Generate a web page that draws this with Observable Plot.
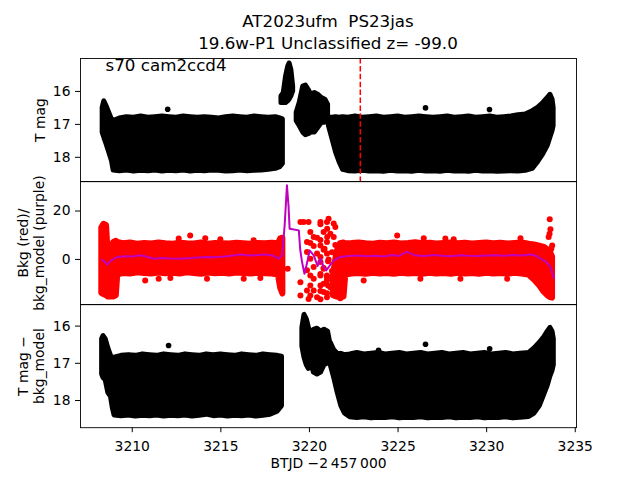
<!DOCTYPE html>
<html><head><meta charset="utf-8">
<script src="https://cdn.jsdelivr.net/npm/d3@7"></script>
<script src="https://cdn.jsdelivr.net/npm/@observablehq/plot@0.6"></script>
<style>
body{margin:0;background:#fff;}
#fig{position:relative;width:640px;height:480px;font-family:"DejaVu Sans",sans-serif;color:#000;overflow:hidden;}
.title{position:absolute;left:0;top:9.6px;width:656px;text-align:center;font-size:16.7px;line-height:22.6px;white-space:pre;}
</style></head><body><div id="fig"><div class="title" id="title"></div></div>
<script>
// ---------- data ----------
const titleLines = ["AT2023ufm  PS23jas", "19.6w-P1 Unclassified z= -99.0"];
const xTicks = [3210, 3215, 3220, 3225, 3230, 3235];
const xLabel = "BTJD \u22122\u2009457\u2009000";
const sectorLabel = "s70 cam2ccd4";
const markTime = [3222.87];

// Panel 1 : T mag envelope (segments)
const p1A_t = [3208.33,3208.42,3208.55,3208.70,3208.85,3208.95,3209.3,3209.7,3210.1,3210.5,3210.9,3211.3,3211.7,3212.1,3212.5,3212.9,3213.3,3213.7,3214.1,3214.5,3214.9,3215.3,3215.7,3216.1,3216.5,3216.9,3217.3,3217.7,3218.1,3218.35,3218.5];
const p1A_top = [16.50,16.30,16.45,16.65,16.85,16.90,16.82,16.78,16.80,16.76,16.80,16.78,16.76,16.78,16.80,16.76,16.78,16.80,16.78,16.80,16.82,16.78,16.76,16.78,16.80,16.76,16.78,16.80,16.78,16.82,16.85];
const p1A_bot = [17.25,17.40,17.60,17.85,18.10,18.40,18.42,18.40,18.43,18.41,18.42,18.40,18.43,18.41,18.42,18.40,18.43,18.41,18.42,18.40,18.41,18.43,18.42,18.40,18.42,18.41,18.40,18.38,18.35,18.30,18.20];
const p1B_t = [3218.42,3218.55,3218.68,3218.80,3218.88,3218.98,3219.08];
const p1B_top = [16.15,16.05,15.55,15.25,15.15,15.35,15.85];
const p1B_bot = [16.35,16.35,16.35,16.30,16.25,16.15,16.00];
const p1C_t = [3219.28,3219.45,3219.65,3219.80,3219.95,3220.10,3220.30,3220.50,3220.70,3220.90,3221.05];
const p1C_top = [16.65,16.35,15.85,15.82,15.95,16.10,16.05,16.10,16.20,16.25,16.40];
const p1C_bot = [16.90,17.05,17.25,17.33,17.30,17.25,17.25,17.10,16.95,16.95,16.90];
const p1D_t = [3221.10,3221.30,3221.50,3221.70,3221.90,3222.2,3222.6,3223.0,3223.4,3223.8,3224.2,3224.6,3225.0,3225.4,3225.8,3226.2,3226.6,3227.0,3227.4,3227.8,3228.2,3228.6,3229.0,3229.4,3229.8,3230.2,3230.6,3231.0,3231.4,3231.8,3232.2,3232.6,3232.9,3233.2,3233.45,3233.6,3233.72,3233.78];
const p1D_top = [16.80,16.80,16.78,16.80,16.78,16.80,16.76,16.80,16.78,16.76,16.80,16.78,16.76,16.80,16.78,16.76,16.78,16.80,16.78,16.76,16.80,16.78,16.76,16.80,16.78,16.76,16.80,16.78,16.76,16.72,16.70,16.60,16.50,16.35,16.20,16.10,16.25,16.50];
const p1D_bot = [17.05,17.45,17.85,18.15,18.38,18.42,18.43,18.41,18.43,18.42,18.44,18.41,18.43,18.42,18.44,18.41,18.43,18.42,18.44,18.41,18.43,18.42,18.44,18.41,18.43,18.42,18.44,18.43,18.42,18.43,18.41,18.35,18.15,17.90,17.65,17.40,17.20,17.05];
const p1Out_t = [3212.0, 3226.55, 3230.16];
const p1Out_m = [16.54, 16.50, 16.55];

// Panel 2 : background flux (red) envelope + scattered points, model (purple)
const p2A_t = [3208.28,3208.40,3208.55,3208.65,3208.80,3208.95,3209.10,3209.18,3209.5,3209.9,3210.3,3210.7,3211.1,3211.5,3211.9,3212.3,3212.7,3213.1,3213.5,3213.9,3214.3,3214.7,3215.1,3215.5,3215.9,3216.3,3216.7,3217.1,3217.5,3217.9,3218.25,3218.38,3218.5];
const p2A_top = [13.0,14.5,14.0,1.0,-0.5,7.0,7.5,7.0,6.5,6.8,6.3,6.6,6.4,6.8,6.5,6.3,6.7,6.5,6.4,6.8,6.3,6.6,6.5,6.4,6.7,6.5,6.3,6.6,6.5,6.7,6.5,8.5,8.8];
const p2A_bot = [-14.0,-14.5,-15.0,-15.5,-15.5,-15.5,-15.0,-6.5,-5.8,-6.0,-5.5,-5.8,-6.0,-5.6,-5.9,-5.7,-6.0,-5.5,-5.8,-6.1,-5.6,-5.9,-5.7,-6.0,-5.6,-5.8,-6.0,-5.7,-5.9,-6.0,-6.5,-12.0,-14.3];
const p2B_t = [3221.35,3221.55,3221.75,3221.95,3222.05,3222.4,3222.8,3223.2,3223.6,3224.0,3224.4,3224.8,3225.2,3225.6,3226.0,3226.4,3226.8,3227.2,3227.6,3228.0,3228.4,3228.8,3229.2,3229.6,3230.0,3230.4,3230.8,3231.2,3231.6,3232.0,3232.4,3232.7,3233.0,3233.25,3233.45,3233.6,3233.72];
const p2B_top = [-7.0,3.0,6.5,6.8,6.5,6.6,6.8,6.5,6.3,6.7,6.5,6.8,6.4,6.6,6.9,6.5,6.7,6.4,6.6,6.8,6.5,6.7,6.4,6.6,6.8,6.5,6.7,6.4,6.6,6.8,6.3,6.0,5.5,5.0,4.0,3.0,1.0];
const p2B_bot = [-15.0,-15.5,-15.8,-15.5,-6.5,-6.0,-5.8,-6.1,-5.7,-6.0,-5.8,-6.1,-5.7,-6.0,-5.8,-6.1,-5.7,-6.0,-5.8,-6.1,-5.7,-6.0,-5.8,-6.1,-5.7,-6.0,-5.8,-6.1,-5.7,-6.0,-6.5,-8.5,-11.0,-13.5,-15.0,-15.8,-16.0];
const p2Pts_t = [3210.73,3211.49,3212.15,3212.62,3213.27,3214.12,3214.22,3214.97,3216.29,3216.85,3217.23,3223.06,3224.95,3226.26,3226.45,3227.67,3228.14,3228.52,3231.16,3231.91,3218.77,
  3233.56,3233.60,3233.55,3233.50,3233.70,3233.65,
  3219.49,3219.67,3219.95,3220.62,3220.99,3220.05,3220.24,3220.43,3221.00,3221.00,3219.86,3220.05,3220.62,3220.24,3220.85,3219.86,3220.43,3220.99,3220.05,3220.62,3221.05,3220.24,3220.80,3219.86,3220.05,3220.62,3220.99,3220.24,3220.99,3219.49,3220.05,3220.62,3221.05,3219.86,3220.24,3220.80,3219.49,3220.05,3220.43,3220.99,3219.95,3220.62,
  3220.62,3221.08,3221.37,3221.46,3220.80,3221.18,3221.37,3220.62,3220.99,3221.46,3220.80,3221.27,3220.62,3221.08,3221.46,3220.80,3221.27,3220.62,3220.99,3221.46,3220.80,3221.18,3221.56,3220.62,3220.99,3221.46,3221.74,3221.84,3221.65];
const p2Pts_v = [-8.7,-8.0,-7.7,8.6,9.9,8.8,-8.0,8.3,-8.0,7.9,-7.7,-8.7,9.9,-8.0,8.8,8.6,8.3,-8.0,-8.0,8.8,-3.8,
  16.6,12.5,10.6,9.3,5.8,4.4,
  15.5,15.5,15.5,15.5,15.5,11.3,9.3,9.0,12.7,9.3,7.2,6.8,5.8,5.5,4.4,3.1,2.4,2.4,0.3,-1.1,-0.8,-3.1,-3.8,-4.5,-6.6,-6.6,-6.6,-8.0,-8.7,-9.4,-10.8,-10.8,-10.8,-12.8,-12.8,-13.5,-14.9,-14.9,-15.6,-15.6,-16.3,-16.5,
  14.5,16.8,14.8,13.4,11.3,10.6,9.3,8.0,7.2,6.0,4.0,3.0,1.0,0.0,-1.5,-3.5,-4.8,-6.0,-7.5,-8.5,-10.0,-11.5,-12.0,-13.0,-14.0,-15.0,-16.0,-13.0,-10.5];
const p2Model_t = [3208.29,3208.45,3208.57,3208.80,3209.14,3209.6,3210.0,3210.45,3210.9,3211.2,3211.7,3212.2,3212.71,3213.2,3213.7,3214.22,3214.7,3215.2,3215.6,3216.1,3216.6,3217.1,3217.6,3218.0,3218.26,3218.45,3218.60,3218.73,3218.82,3218.88,3219.40,3219.48,3219.58,3219.72,3219.88,3220.01,3220.24,3220.46,3220.62,3220.80,3220.95,3221.15,3221.37,3221.74,3222.2,3222.7,3223.2,3223.7,3224.2,3224.7,3225.0,3225.5,3226.0,3226.5,3227.0,3227.5,3228.0,3228.5,3229.0,3229.5,3230.0,3230.5,3231.0,3231.5,3232.0,3232.47,3232.8,3233.04,3233.35,3233.6,3233.79];
const p2Model_v = [-0.1,-1.0,-2.2,-0.5,1.0,1.3,1.2,1.7,1.0,0.3,0.6,0.4,0.3,0.5,0.8,1.0,0.9,1.2,1.5,2.0,1.6,1.8,2.0,1.4,0.3,1.7,14.0,30.6,22.0,12.7,12.0,4.0,-1.0,-5.9,-1.0,3.7,1.7,-2.7,0.3,-3.0,-4.5,-2.5,-0.4,1.0,1.4,1.6,1.3,1.5,1.2,1.8,1.4,3.1,1.6,1.4,1.8,1.5,1.3,1.7,1.5,1.4,1.6,1.7,1.5,1.8,1.6,2.0,1.5,0.3,-1.0,-3.1,-7.7];

// Panel 3 : T mag - bkg_model envelope (segments)
const p3A_t = [3208.30,3208.38,3208.50,3208.65,3208.80,3208.90,3209.0,3209.4,3209.8,3210.2,3210.6,3211.0,3211.4,3211.8,3212.2,3212.6,3213.0,3213.4,3213.8,3214.2,3214.6,3215.0,3215.4,3215.8,3216.2,3216.6,3217.0,3217.4,3217.8,3218.2,3218.45];
const p3A_top = [16.35,16.27,16.35,16.60,16.80,16.85,16.85,16.80,16.78,16.80,16.76,16.78,16.80,16.76,16.78,16.80,16.76,16.78,16.80,16.76,16.78,16.76,16.78,16.80,16.76,16.78,16.80,16.76,16.78,16.80,16.82];
const p3A_bot = [17.30,17.40,17.45,17.80,17.90,18.20,18.40,18.42,18.40,18.43,18.41,18.42,18.40,18.43,18.41,18.42,18.40,18.43,18.41,18.38,18.42,18.40,18.43,18.41,18.42,18.40,18.43,18.41,18.38,18.30,18.15];
const p3C_t = [3219.60,3219.72,3219.85,3219.97,3220.10,3220.25,3220.45,3220.65,3220.85,3221.05,3221.15];
const p3C_top = [16.05,15.70,15.82,16.05,16.25,16.10,16.07,16.15,16.10,16.15,16.40];
const p3C_bot = [16.55,16.85,17.05,17.15,16.95,17.25,17.30,17.25,17.05,17.00,16.90];
const p3D_t = [3221.20,3221.40,3221.60,3221.80,3222.00,3222.3,3222.7,3223.1,3223.5,3223.9,3224.3,3224.7,3225.1,3225.5,3225.9,3226.3,3226.7,3227.1,3227.5,3227.9,3228.3,3228.7,3229.1,3229.5,3229.9,3230.3,3230.7,3231.1,3231.5,3231.9,3232.4,3232.7,3233.0,3233.25,3233.45,3233.6,3233.72,3233.79];
const p3D_top = [16.45,16.65,16.75,16.75,16.78,16.76,16.72,16.76,16.74,16.72,16.76,16.74,16.72,16.76,16.74,16.72,16.76,16.74,16.72,16.76,16.74,16.72,16.76,16.74,16.72,16.76,16.74,16.72,16.76,16.74,16.72,16.60,16.45,16.30,16.15,16.05,16.15,16.35];
const p3D_bot = [17.05,17.40,17.80,18.15,18.35,18.45,18.47,18.45,18.48,18.46,18.47,18.45,18.48,18.46,18.47,18.45,18.48,18.46,18.47,18.45,18.48,18.46,18.47,18.45,18.48,18.46,18.47,18.45,18.48,18.46,18.44,18.35,18.15,17.85,17.60,17.35,17.20,17.05];
const p3Out_t = [3212.05, 3223.9, 3226.55, 3230.17];
const p3Out_m = [16.52, 16.65, 16.49, 16.61];

const yLabels = ["T mag", "Bkg (red)/\nbkg_model (purple)", "T mag \u2212\nbkg_model"];
const yTicks1 = [16, 17, 18], yTicks2 = [0, 20], yTicks3 = [16, 17, 18];

// ---------- build tables ----------
document.getElementById("title").textContent = titleLines.join("\n");
const seg = (name, t, a, b) => t.map((d, i) => ({seg: name, t: d, a: a[i], b: b[i]}));
const pts = (t, v) => t.map((d, i) => ({t: d, v: v[i]}));
const env1 = [...seg("A", p1A_t, p1A_top, p1A_bot), ...seg("B", p1B_t, p1B_top, p1B_bot), ...seg("C", p1C_t, p1C_top, p1C_bot), ...seg("D", p1D_t, p1D_top, p1D_bot)];
const env2 = [...seg("A", p2A_t, p2A_top, p2A_bot), ...seg("B", p2B_t, p2B_top, p2B_bot)];
const env3 = [...seg("A", p3A_t, p3A_top, p3A_bot), ...seg("C", p3C_t, p3C_top, p3C_bot), ...seg("D", p3D_t, p3D_top, p3D_bot)];

const fig = document.getElementById("fig");
const xDomain = [3207.08, 3235.07];
const PH = 123.2, P0 = 57.6;

function ylab(text, dx) {
  return Plot.text([text], {text: d => d, frameAnchor: "left", dx, rotate: -90, textAnchor: "middle",
    lineAnchor: "middle", lineHeight: 1.15, fontSize: 13.9, fill: "black"});
}

function panel(i, yDomain, reverse, ticks, marks, xAxis) {
  const mt = 10, mb = xAxis ? 53 : 10;
  const svg = Plot.plot({
    width: 640, height: PH + mt + mb,
    marginLeft: 80, marginRight: 64, marginTop: mt, marginBottom: mb,
    style: {background: "transparent", overflow: "visible", fontFamily: "DejaVu Sans, sans-serif", fontSize: "13.9px", color: "black"},
    x: {domain: xDomain, ticks: xTicks, tickFormat: d => String(d), tickSize: 5, tickPadding: 8, label: null, axis: xAxis ? "bottom" : null},
    y: {domain: yDomain, reverse, ticks, tickFormat: d => String(d), tickSize: 5, tickPadding: 5, label: null},
    marks: [...marks, Plot.frame({stroke: "black", strokeWidth: 0.9})]
  });
  svg.style.position = "absolute";
  svg.style.left = "0px";
  svg.style.top = (P0 + i * PH - mt) + "px";
  fig.appendChild(svg);
}

panel(0, [15.0, 18.74], true, yTicks1, [
  Plot.areaY(env1, {x: "t", y1: "a", y2: "b", z: "seg", fill: "black", stroke: "black", strokeWidth: 5, strokeLinejoin: "round"}),
  Plot.dot(pts(p1Out_t, p1Out_m), {x: "t", y: "v", r: 2.8, fill: "black"}),
  Plot.ruleX(markTime, {stroke: "red", strokeWidth: 1.5, strokeDasharray: "5.5,2.4"}),
  Plot.text([sectorLabel], {text: d => d, frameAnchor: "top-left", dx: 25, dy: 7.6, textAnchor: "start", lineAnchor: "middle", fontSize: 16.7, fill: "black"}),
  ylab(yLabels[0], -41)
], false);

panel(1, [-18.7, 32.2], false, yTicks2, [
  Plot.areaY(env2, {x: "t", y1: "a", y2: "b", z: "seg", fill: "red", stroke: "red", strokeWidth: 6, strokeLinejoin: "round"}),
  Plot.dot(pts(p2Pts_t, p2Pts_v), {x: "t", y: "v", r: 3, fill: "red"}),
  Plot.line(pts(p2Model_t, p2Model_v), {x: "t", y: "v", stroke: "#bf00bf", strokeWidth: 2}),
  ylab(yLabels[1], -50)
], false);

panel(2, [15.42, 18.73], true, yTicks3, [
  Plot.areaY(env3, {x: "t", y1: "a", y2: "b", z: "seg", fill: "black", stroke: "black", strokeWidth: 5, strokeLinejoin: "round"}),
  Plot.dot(pts(p3Out_t, p3Out_m), {x: "t", y: "v", r: 2.8, fill: "black"}),
  ylab(yLabels[2], -50),
  Plot.text([xLabel], {text: d => d, frameAnchor: "bottom", dy: 35.5, textAnchor: "middle", lineAnchor: "middle", fontSize: 13.9, fill: "black"})
], true);
</script></body></html>
